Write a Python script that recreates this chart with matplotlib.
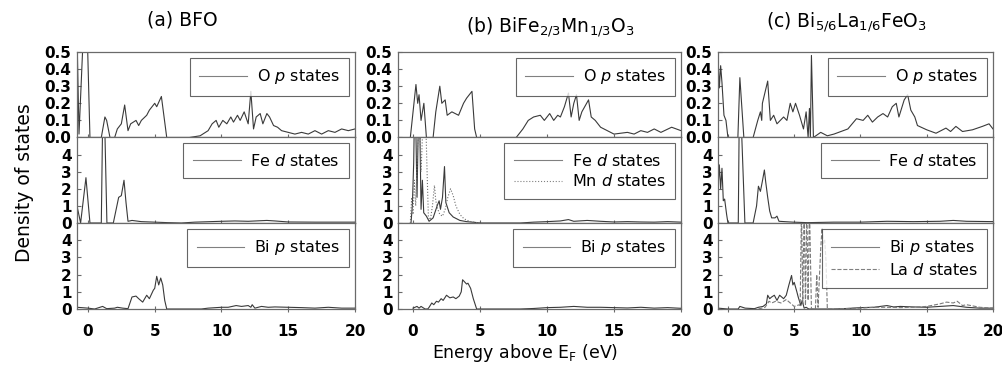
import matplotlib
matplotlib.use("Agg")
import matplotlib.pyplot as plt

# ---- digitised DOS curves (energy in eV, DOS) ----
# (a) BFO
a_op_e = [-0.82, -0.67, -0.35, -0.05, 0.15, 1.0, 1.27, 1.4, 1.65, 2.0, 2.2, 2.5, 2.75, 3.0, 3.2, 3.6, 3.8,
          4.0, 4.4, 4.6, 5.0, 5.15, 5.5, 5.9, 7.6, 8.4, 9.0, 9.3, 9.6, 9.8, 10.1, 10.4, 10.7, 10.9, 11.2,
          11.4, 11.7, 12.0, 12.2, 12.4, 12.6, 12.9, 13.1, 13.4, 13.6, 13.9, 14.2, 14.5, 15.0, 15.5, 16.0,
          16.5, 17.0, 17.5, 18.0, 18.5, 19.0, 19.5, 20.0]
a_op_v = [0.6, 0.02, 0.6, 0.6, 0.0, 0.0, 0.12, 0.1, 0.0, 0.0, 0.05, 0.08, 0.19, 0.04, 0.08, 0.1, 0.07,
          0.1, 0.13, 0.16, 0.2, 0.18, 0.24, 0.0, 0.0, 0.01, 0.04, 0.08, 0.1, 0.06, 0.1, 0.08, 0.12, 0.09,
          0.13, 0.1, 0.15, 0.08, 0.27, 0.05, 0.12, 0.14, 0.08, 0.14, 0.12, 0.07, 0.06, 0.04, 0.03, 0.02,
          0.03, 0.02, 0.04, 0.02, 0.04, 0.03, 0.05, 0.04, 0.05]
a_fed_e = [-0.82, -0.55, -0.15, 0.15, 1.0, 1.1, 1.25, 1.42, 1.9, 2.3, 2.5, 2.7, 2.85, 3.0, 3.3, 4.0,
           5.0, 6.0, 7.0, 8.0, 10.0, 11.0, 12.0, 13.4, 14.0, 15.0, 17.0, 20.0]
a_fed_v = [1.0, 0.0, 2.65, 0.0, 0.0, 6.0, 6.0, 0.0, 0.0, 1.5, 1.6, 2.5, 1.2, 0.1, 0.15, 0.08,
           0.05, 0.02, 0.0, 0.05, 0.1, 0.12, 0.1, 0.15, 0.12, 0.06, 0.05, 0.05]
a_bip_e = [-0.82, 0.0, 0.5, 1.1, 1.4, 2.0, 2.2, 2.6, 3.0, 3.3, 3.6, 3.8, 4.1, 4.4, 4.6, 4.9, 5.0,
           5.15, 5.3, 5.45, 5.6, 5.75, 5.9, 8.5, 9.0, 10.0, 10.5, 11.1, 11.5, 12.0, 12.2, 12.3, 12.5,
           13.0, 13.5, 14.0, 15.0, 16.0, 17.0, 18.0, 19.0, 20.0]
a_bip_v = [0.1, 0.05, 0.0, 0.15, 0.02, 0.05, 0.1, 0.05, 0.02, 0.7, 0.75, 0.6, 0.4, 0.8, 0.6, 1.1, 1.2,
           1.9, 1.4, 1.8, 1.4, 0.5, 0.0, 0.0, 0.05, 0.1, 0.1, 0.2, 0.15, 0.2, 0.1, 0.25, 0.05,
           0.15, 0.1, 0.12, 0.1, 0.08, 0.05, 0.1, 0.05, 0.05]

# (b) BiFe2/3Mn1/3O3
b_op_e = [-0.2, 0.22, 0.35, 0.45, 0.6, 0.81, 1.0, 1.5, 1.7, 2.0, 2.15, 2.4, 2.55, 2.9, 3.4, 3.77, 4.0,
          4.4, 4.6, 4.75, 7.7, 8.2, 8.6, 9.0, 9.5, 9.8, 10.2, 10.5, 10.8, 11.0, 11.3, 11.6, 11.8, 12.0,
          12.2, 12.4, 12.6, 13.1, 13.3, 13.6, 14.0, 14.5, 15.0, 16.0, 16.5, 17.0, 17.5, 18.0, 18.5,
          19.3, 20.0]
b_op_v = [0.0, 0.31, 0.2, 0.25, 0.1, 0.2, 0.0, 0.0, 0.15, 0.3, 0.2, 0.22, 0.13, 0.15, 0.13, 0.2, 0.23,
          0.27, 0.05, 0.0, 0.0, 0.05, 0.1, 0.12, 0.13, 0.1, 0.14, 0.1, 0.13, 0.12, 0.18, 0.26, 0.12, 0.2,
          0.25, 0.1, 0.15, 0.22, 0.12, 0.1, 0.06, 0.04, 0.02, 0.03, 0.02, 0.04, 0.03, 0.05, 0.03,
          0.06, 0.04]
b_fed_e = [-0.15, -0.05, 0.05, 0.1, 0.2, 0.3, 0.4, 0.5, 0.6, 0.7, 0.8, 1.0, 1.2, 1.5, 1.8, 1.95, 2.05,
           2.2, 2.35, 2.45, 2.7, 3.0, 3.5, 4.0, 4.7, 5.0, 8.0, 9.0, 10.0, 11.0, 11.6, 12.0, 13.0, 14.0,
           15.0, 16.0, 17.0, 18.0, 19.0, 20.0]
b_fed_v = [0.0, 1.0, 3.5, 6.0, 6.0, 1.5, 6.0, 6.0, 0.8, 2.5, 0.6, 0.4, 0.1, 0.3, 1.0, 1.3, 0.8,
           1.5, 3.3, 1.2, 0.6, 0.35, 0.15, 0.08, 0.03, 0.0, 0.0, 0.05, 0.08, 0.12, 0.2, 0.1, 0.15, 0.1,
           0.06, 0.08, 0.06, 0.05, 0.08, 0.05]
b_mnd_e = [-0.2, -0.1, 0.0, 0.1, 0.2, 0.35, 0.5, 0.6, 0.75, 0.85, 0.95, 1.05, 1.15, 1.3, 1.45, 1.6,
           1.7, 1.85, 2.0, 2.2, 2.4, 2.6, 2.8, 3.0, 3.2, 3.5, 3.8, 4.2, 4.7, 5.0]
b_mnd_v = [0.0, 1.5, 0.5, 2.5, 1.0, 4.5, 6.0, 3.0, 6.0, 6.0, 6.0, 3.0, 0.3, 0.2, 1.0, 2.2,
           1.3, 0.8, 0.5, 0.4, 0.8, 1.5, 2.0, 1.6, 1.0, 0.5, 0.25, 0.1, 0.03, 0.0]
b_bip_e = [0.0, 0.3, 0.45, 0.6, 0.9, 1.1, 1.2, 1.4, 1.55, 1.75, 1.9, 2.1, 2.25, 2.5, 2.75, 3.0, 3.2,
           3.45, 3.6, 3.7, 4.0, 4.1, 4.3, 4.5, 4.75, 8.0, 9.0, 10.0, 11.0, 12.0, 13.0, 14.0, 15.0, 16.0,
           17.0, 18.0, 19.0, 20.0]
b_bip_v = [0.05, 0.15, 0.05, 0.15, 0.0, 0.0, 0.1, 0.35, 0.25, 0.45, 0.4, 0.6, 0.5, 0.8, 0.65, 0.7, 0.6,
           0.75, 1.0, 1.7, 1.45, 1.5, 1.2, 0.6, 0.0, 0.0, 0.03, 0.08, 0.1, 0.15, 0.1, 0.1, 0.08, 0.06,
           0.1, 0.05, 0.08, 0.04]

# (c) Bi5/6La1/6FeO3
c_op_e = [-0.75, -0.65, -0.55, -0.45, -0.3, -0.15, 0.0, 0.75, 0.9, 1.2, 1.9, 2.25, 2.45, 2.55, 2.6,
          3.0, 3.2, 3.45, 3.7, 4.2, 4.45, 4.7, 4.9, 5.1, 5.4, 5.7, 5.9, 6.05, 6.15, 6.22, 6.3, 6.45,
          7.0, 7.5, 8.0, 9.05, 9.7, 10.2, 10.55, 10.9, 11.3, 11.7, 12.05, 12.4, 12.7, 12.9, 13.3,
          13.56, 13.8, 14.1, 14.3, 15.0, 15.7, 16.45, 16.8, 17.2, 17.7, 18.45, 19.2, 19.7, 20.0]
c_op_v = [0.48, 0.29, 0.42, 0.32, 0.13, 0.1, 0.0, 0.0, 0.35, 0.0, 0.0, 0.1, 0.15, 0.1, 0.2,
          0.33, 0.1, 0.13, 0.08, 0.12, 0.1, 0.2, 0.15, 0.2, 0.13, 0.05, 0.15, 0.0, 0.17, 0.0, 0.48, 0.0,
          0.03, 0.01, 0.02, 0.05, 0.11, 0.1, 0.13, 0.09, 0.12, 0.14, 0.12, 0.18, 0.2, 0.12, 0.22,
          0.25, 0.16, 0.12, 0.07, 0.045, 0.025, 0.055, 0.035, 0.065, 0.035, 0.045, 0.065, 0.08, 0.05]
c_fed_e = [-0.75, -0.65, -0.55, -0.45, -0.35, -0.25, -0.1, 0.0, 0.78, 0.85, 1.0, 1.28, 1.9, 2.16,
           2.3, 2.45, 2.6, 2.75, 2.85, 3.0, 3.15, 3.3, 3.55, 3.7, 3.85, 4.9, 6.0, 8.0, 10.0, 12.0,
           14.0, 16.0, 17.0, 18.0, 20.0]
c_fed_v = [2.0, 3.4, 2.0, 3.2, 1.3, 1.4, 0.5, 0.0, 0.0, 6.0, 6.0, 0.0, 0.0, 1.0,
           2.15, 1.85, 2.45, 3.1, 2.4, 1.5, 0.7, 0.3, 0.3, 0.4, 0.1, 0.05, 0.02, 0.05, 0.05, 0.1,
           0.08, 0.1, 0.15, 0.1, 0.08]
c_bip_e = [-0.75, 0.0, 0.77, 0.9, 1.3, 2.0, 2.3, 2.65, 2.9, 3.0, 3.15, 3.3, 3.5, 3.7, 3.9, 4.2, 4.4,
           4.6, 4.8, 4.9, 5.0, 5.2, 5.3, 5.5, 5.6, 5.75, 5.9, 6.1, 8.0, 9.0, 10.0, 11.0, 12.0, 12.5,
           13.0, 14.0, 15.0, 16.0, 17.0, 18.0, 19.0, 20.0]
c_bip_v = [0.05, 0.0, 0.0, 0.15, 0.05, 0.02, 0.1, 0.15, 0.3, 0.8, 0.6, 0.7, 0.8, 0.5, 0.8, 0.6, 0.8,
           1.4, 1.95, 1.4, 1.55, 1.0, 0.7, 0.2, 0.5, 0.05, 0.1, 0.0, 0.0, 0.03, 0.08, 0.1, 0.2, 0.12,
           0.15, 0.12, 0.1, 0.15, 0.2, 0.1, 0.05, 0.05]
c_lad_e = [2.3, 2.8, 3.1, 3.3, 3.6, 4.0, 4.4, 4.7, 5.0, 5.4, 5.45, 5.55, 5.65, 5.75, 5.85, 5.95, 6.05,
           6.15, 6.3, 6.6, 6.7, 6.8, 7.0, 7.1, 7.2, 7.3, 7.4, 7.5, 7.7, 9.0, 10.0, 11.0, 12.0, 13.0,
           14.0, 15.0, 16.0, 16.5, 17.0, 17.3, 17.7, 18.0, 19.0, 20.0]
c_lad_v = [0.0, 0.1, 0.45, 0.35, 0.45, 0.35, 0.55, 0.35, 0.15, 0.25, 0.2, 6.0, 0.3, 6.0, 0.2, 6.0, 0.5,
           6.0, 0.0, 0.0, 2.0, 0.1, 3.5, 4.7, 3.8, 4.0, 2.8, 0.0, 0.0, 0.03, 0.05, 0.1, 0.1, 0.08,
           0.1, 0.15, 0.3, 0.4, 0.35, 0.45, 0.2, 0.25, 0.1, 0.05]

titles = [r"(a) BFO",
          r"(b) BiFe$_{\mathregular{2/3}}$Mn$_{\mathregular{1/3}}$O$_{\mathregular{3}}$",
          r"(c) Bi$_{\mathregular{5/6}}$La$_{\mathregular{1/6}}$FeO$_{\mathregular{3}}$"]
xlims = [(-0.82, 20), (-1.12, 20), (-0.75, 20)]

plt.rcParams["font.family"] = "DejaVu Sans"
plt.rcParams["mathtext.fontset"] = "dejavusans"

W, H = 1003, 367
fig = plt.figure(figsize=(W / 100, H / 100), dpi=100)

col_px = [(77, 355), (398, 681), (718, 993)]
row_px = [(52, 137.5), (137.5, 223), (223, 309)]

line_c = "#3a3a3a"
spine_c = "#6a6a6a"

curves = [
    [[(a_op_e, a_op_v, "-", r"O $\mathit{p}$ states")],
     [(a_fed_e, a_fed_v, "-", r"Fe $\mathit{d}$ states")],
     [(a_bip_e, a_bip_v, "-", r"Bi $\mathit{p}$ states")]],
    [[(b_op_e, b_op_v, "-", r"O $\mathit{p}$ states")],
     [(b_fed_e, b_fed_v, "-", r"Fe $\mathit{d}$ states"), (b_mnd_e, b_mnd_v, ":", r"Mn $\mathit{d}$ states")],
     [(b_bip_e, b_bip_v, "-", r"Bi $\mathit{p}$ states")]],
    [[(c_op_e, c_op_v, "-", r"O $\mathit{p}$ states")],
     [(c_fed_e, c_fed_v, "-", r"Fe $\mathit{d}$ states")],
     [(c_bip_e, c_bip_v, "-", r"Bi $\mathit{p}$ states"), (c_lad_e, c_lad_v, "--", r"La $\mathit{d}$ states")]],
]
styles = {"-": line_c, ":": "#707070", "--": "#7a7a7a"}

for ci, (x0, x1) in enumerate(col_px):
    for ri, (y0, y1) in enumerate(row_px):
        ax = fig.add_axes([x0 / W, 1 - y1 / H, (x1 - x0) / W, (y1 - y0) / H])
        for e, v, ls, lab in curves[ci][ri]:
            ax.plot(e, v, ls, color=styles[ls], lw=0.8, label=lab)
        ax.set_xlim(*xlims[ci])
        ax.set_xticks([0, 5, 10, 15, 20])
        if ri == 0:
            ax.set_ylim(0, 0.5)
            ax.set_yticks([0.0, 0.1, 0.2, 0.3, 0.4, 0.5])
            ax.set_yticklabels(["0.0", "0.1", "0.2", "0.3", "0.4", "0.5"])
        else:
            ax.set_ylim(0, 5)
            ax.set_yticks([0, 1, 2, 3, 4])
        if ri < 2:
            ax.tick_params(axis="x", labelbottom=False)
        for sp in ax.spines.values():
            sp.set_color(spine_c)
            sp.set_linewidth(0.9)
        ax.tick_params(axis="x", direction="inout", length=4, width=0.8, color=spine_c,
                       labelsize=11, pad=9)
        ax.tick_params(axis="y", direction="in", length=3, width=0.8, color=spine_c,
                       labelsize=11, pad=4)
        for lbl in ax.get_xticklabels() + ax.get_yticklabels():
            lbl.set_fontweight("bold")
        leg = ax.legend(loc="upper right", fontsize=11.5, frameon=True, fancybox=False,
                        borderpad=0.6, borderaxespad=0.35, handlelength=3.0,
                        handletextpad=0.6, labelspacing=0.3)
        leg.get_frame().set_edgecolor("#404040")
        leg.get_frame().set_linewidth(0.8)
        for h in leg.get_lines():
            h.set_color("#808080")

title_pos = [(182, 20), (550, 27), (847, 22)]
for (tx, ty), t in zip(title_pos, titles):
    fig.text(tx / W, 1 - ty / H, t, ha="center", va="center", fontsize=13.5)

fig.text(25 / W, 1 - 183 / H, "Density of states", rotation=90, ha="center", va="center",
         fontsize=13.5)
fig.text(525 / W, 1 - 353 / H, r"Energy above E$_{\mathregular{F}}$ (eV)", ha="center",
         va="center", fontsize=12.5)

fig.savefig("out.png", dpi=100)
